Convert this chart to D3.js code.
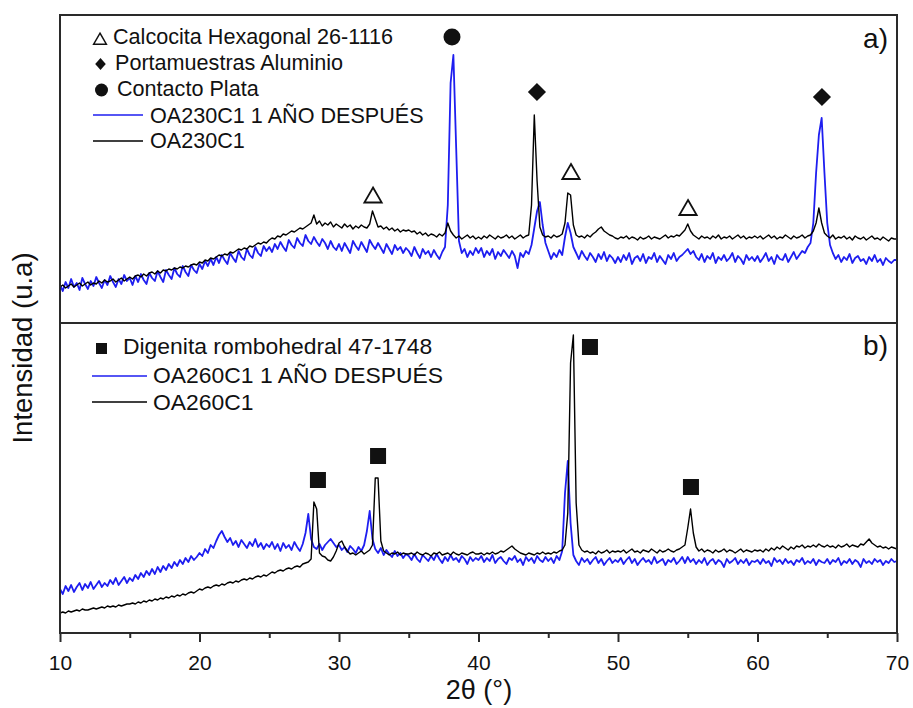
<!DOCTYPE html>
<html>
<head>
<meta charset="utf-8">
<script src="https://cdn.jsdelivr.net/npm/d3@7"></script>
<style>
  html, body { margin: 0; padding: 0; background: #fff; }
  svg { display: block; font-family: "Liberation Sans", Arial, sans-serif; }
</style>
</head>
<body>
<svg id="chart" width="913" height="708"></svg>
<script>
// ---------------- DATA ----------------
// 2θ sampling grid (10° .. 70°, step 0.2°)
const twoTheta = d3.range(301).map(i => +(10 + i * 0.2).toFixed(1));
const xTicks = [10, 20, 30, 40, 50, 60, 70];
const xMinorTicks = [15, 25, 35, 45, 55, 65];

// Panel a) OA230C1 (black), intensity in arbitrary units
const a_OA230C1 = [
  36,38,35,37,39,36,38,40,37,39,41,38,40,39,42,40,43,41,42,44,41,43,45,42,44,
  46,44,47,48,46,49,47,50,51,49,52,50,53,52,54,53,55,54,56,55,57,56,58,59,58,
  61,60,63,62,65,64,66,68,67,69,68,71,70,72,74,73,75,74,77,76,78,80,79,81,80,
  83,85,84,87,86,89,88,90,92,91,93,95,94,96,98,100,108,99,102,97,100,98,101,96,99,
  97,95,99,96,98,94,97,95,98,96,95,99,112,104,96,97,94,96,93,95,92,94,91,93,92,
  93,91,92,89,91,88,90,87,89,88,86,89,87,90,100,92,88,85,87,84,86,88,85,87,84,
  86,84,87,85,88,86,84,87,85,86,88,85,87,84,86,88,85,87,88,118,208,142,96,88,86,
  87,85,88,86,87,89,100,130,128,98,88,86,87,85,88,86,89,91,94,96,92,90,88,87,85,
  84,86,85,87,84,86,85,83,86,84,85,87,84,86,85,84,86,88,85,87,86,88,87,90,93,
  99,92,88,86,84,87,85,86,84,87,85,88,84,86,85,87,84,86,88,85,87,84,86,85,87,
  85,87,84,86,88,85,87,84,86,85,88,86,84,87,85,86,88,85,87,88,92,100,115,100,90,
  87,85,88,84,86,85,87,84,86,83,87,85,84,86,83,85,87,84,85,83,86,84,82,85,84,
  84
];
// Panel a) OA230C1 1 AÑO DESPUÉS (blue)
const a_OA230C1_1ano = [
  38,32,41,35,44,36,40,33,45,39,34,42,37,46,40,35,43,38,47,41,36,44,39,48,42,
  45,38,47,41,49,43,39,50,45,42,52,46,41,53,48,44,55,49,46,57,51,47,58,53,50,
  59,54,62,57,64,58,66,60,68,63,59,70,65,61,72,66,63,74,68,65,76,70,67,77,72,
  76,71,79,74,81,76,72,83,78,75,85,80,77,88,82,79,86,81,77,84,80,74,82,76,73,
  79,72,80,75,70,82,77,73,81,76,71,83,78,74,80,75,70,79,74,69,78,73,76,70,75,
  72,67,76,70,65,74,69,72,66,73,68,64,71,76,118,240,268,175,82,70,74,66,72,68,75,
  70,75,66,72,68,74,64,71,67,73,69,65,72,67,55,70,66,72,69,78,95,112,121,98,80,
  72,64,70,66,73,68,86,100,90,76,70,64,72,67,63,70,66,61,69,64,71,62,68,65,60,
  66,61,68,63,70,59,65,67,62,69,60,66,64,70,61,67,63,59,68,64,70,62,66,68,71,
  74,69,72,66,63,69,61,67,64,70,60,66,63,68,62,65,70,61,67,64,59,68,63,66,62,
  67,61,65,70,62,66,59,68,64,63,69,61,66,71,64,68,72,70,76,80,100,150,188,205,150,
  100,78,70,64,68,61,66,63,69,60,65,67,62,64,59,66,62,68,61,64,58,65,62,60,63,
  63
];
// Panel b) OA260C1 (black)
const b_OA260C1 = [
  20,21,20,22,21,22,23,22,24,23,23,24,25,24,25,26,25,27,26,27,26,28,27,28,29,
  29,30,29,31,30,32,31,33,32,34,33,35,34,36,35,37,36,38,37,39,38,40,41,40,42,
  44,43,45,46,45,47,48,47,49,48,50,51,50,52,51,53,54,53,55,54,56,57,56,58,57,
  59,61,60,62,63,62,64,65,64,66,67,66,69,70,71,74,131,124,80,77,76,73,72,76,82,
  90,92,86,82,79,80,78,80,82,79,81,83,88,155,155,92,82,80,78,80,79,81,78,80,79,
  79,80,78,81,79,78,80,79,77,80,79,81,78,79,80,78,81,79,78,80,79,78,80,81,79,
  79,80,78,80,79,81,79,80,82,81,83,85,87,84,82,80,79,78,80,79,78,80,79,81,79,
  80,79,81,80,82,83,88,120,270,298,130,88,83,81,82,80,81,79,82,80,81,83,80,82,81,
  82,81,83,80,82,84,81,82,80,83,82,81,84,82,80,83,81,82,84,82,81,83,84,86,88,
  105,124,100,86,82,84,81,83,82,80,83,81,82,84,81,83,82,80,82,84,81,83,82,81,83,
  82,83,81,84,82,85,83,86,84,87,85,83,86,84,87,86,88,85,87,86,88,86,89,87,86,
  88,86,87,85,88,86,87,89,86,88,87,86,89,88,91,94,90,88,86,87,85,86,84,86,85,
  84
];
// Panel b) OA260C1 1 AÑO DESPUÉS (blue)
const b_OA260C1_1ano = [
  44,39,47,42,48,41,46,50,43,49,45,51,44,48,52,46,50,47,53,49,55,48,52,56,50,
  55,52,58,54,60,56,62,58,64,59,66,61,67,63,69,65,71,67,73,69,75,71,77,73,76,
  80,77,84,80,88,85,92,98,102,96,91,95,88,92,86,93,89,85,91,87,94,86,90,84,89,
  86,91,84,89,82,90,85,88,83,91,86,82,89,100,119,94,86,84,89,83,88,91,94,90,86,
  88,83,86,81,87,84,80,86,82,88,102,122,94,84,80,85,78,83,79,76,82,77,80,75,79,
  77,73,79,74,71,78,75,72,77,73,79,74,70,76,72,78,73,75,71,77,74,69,76,72,75,
  73,77,71,75,72,78,70,74,76,72,69,75,73,77,71,74,68,76,72,75,70,77,73,71,76,
  72,75,70,77,73,82,140,172,110,78,72,68,75,71,74,69,73,76,70,74,68,72,75,70,73,
  71,75,69,73,76,70,74,68,72,75,71,73,69,76,70,72,74,68,73,71,75,69,72,76,70,
  76,71,74,69,73,70,75,68,72,74,69,73,71,66,74,70,72,75,69,73,70,74,68,72,71,
  73,69,74,70,72,67,75,71,73,69,74,70,72,68,73,71,75,69,72,70,74,68,73,71,70,
  74,69,73,71,75,68,72,70,74,69,73,71,66,74,70,72,69,74,71,73,68,72,70,74,71,
  72
];

// Phase markers [2θ, intensity]
const a_calcocita = [[32.44, 125.5], [46.63, 149], [55.02, 113]];
const a_aluminio  = [[44.19, 231], [64.62, 226]];
const a_plata     = [[38.1, 286]];
const b_digenita  = [[28.49, 153], [32.8, 177], [47.99, 286], [55.23, 146]];

const legendA = ["Calcocita Hexagonal 26-1116", "Portamuestras Aluminio", "Contacto Plata",
                 "OA230C1 1 AÑO DESPUÉS", "OA230C1"];
const legendB = ["Digenita rombohedral 47-1748", "OA260C1 1 AÑO DESPUÉS", "OA260C1"];
const panelLabels = ["a)", "b)"];
const xTitle = "2θ (°)";
const yTitle = "Intensidad (u.a)";

// ---------------- CHART ----------------
const BLUE = "#1e1ef0";
const INK = "#111";
const L = 60, R = 897, TOP = 15, MID = 323, BOT = 633;
const svg = d3.select("#chart");

const x = d3.scaleLinear().domain([10, 70]).range([L, R]);
const yA = d3.scaleLinear().domain([0, 308]).range([MID, TOP]);
const yB = d3.scaleLinear().domain([0, 310]).range([BOT, MID]);

const defs = svg.append("defs");
defs.append("clipPath").attr("id", "clipA").append("rect")
  .attr("x", L).attr("y", TOP).attr("width", R - L).attr("height", MID - TOP);
defs.append("clipPath").attr("id", "clipB").append("rect")
  .attr("x", L).attr("y", MID).attr("width", R - L).attr("height", BOT - MID);

function drawSeries(g, ys, vals, color, w) {
  const line = d3.line().x((d, i) => x(twoTheta[i])).y(d => ys(d));
  g.append("path").datum(vals)
    .attr("fill", "none").attr("stroke", color).attr("stroke-width", w)
    .attr("stroke-linejoin", "round").attr("d", line);
}

const gA = svg.append("g").attr("clip-path", "url(#clipA)");
drawSeries(gA, yA, a_OA230C1_1ano, BLUE, 1.8);
drawSeries(gA, yA, a_OA230C1, "#000", 1.4);

const gB = svg.append("g").attr("clip-path", "url(#clipB)");
drawSeries(gB, yB, b_OA260C1_1ano, BLUE, 1.8);
drawSeries(gB, yB, b_OA260C1, "#000", 1.4);

// frames
svg.append("rect").attr("x", L).attr("y", TOP).attr("width", R - L).attr("height", MID - TOP)
  .attr("fill", "none").attr("stroke", "#2a2a2a").attr("stroke-width", 2);
svg.append("rect").attr("x", L).attr("y", MID).attr("width", R - L).attr("height", BOT - MID)
  .attr("fill", "none").attr("stroke", "#2a2a2a").attr("stroke-width", 2);

// x axis
const ax = svg.append("g").attr("transform", `translate(0,${BOT})`)
  .call(d3.axisBottom(x).tickValues(xTicks).tickSize(9).tickPadding(13).tickFormat(d3.format("d")));
ax.select(".domain").remove();
ax.selectAll("line").attr("stroke", "#2a2a2a").attr("stroke-width", 2);
ax.selectAll("text").attr("font-size", 21).attr("fill", INK)
  .attr("font-family", "Liberation Sans, Arial, sans-serif");
const axm = svg.append("g").attr("transform", `translate(0,${BOT})`)
  .call(d3.axisBottom(x).tickValues(xMinorTicks).tickSize(5).tickFormat(""));
axm.select(".domain").remove();
axm.selectAll("line").attr("stroke", "#2a2a2a").attr("stroke-width", 2);

// axis titles
svg.append("text").attr("x", 479).attr("y", 699).attr("text-anchor", "middle")
  .attr("font-size", 27).attr("fill", INK).text(xTitle);
svg.append("text").attr("transform", "translate(32,348) rotate(-90)")
  .attr("text-anchor", "middle").attr("font-size", 27.5).attr("fill", INK).text(yTitle);

// panel labels
svg.append("text").attr("x", 888).attr("y", 48).attr("text-anchor", "end")
  .attr("font-size", 28).attr("fill", INK).text(panelLabels[0]);
svg.append("text").attr("x", 888).attr("y", 355).attr("text-anchor", "end")
  .attr("font-size", 28).attr("fill", INK).text(panelLabels[1]);

// markers
const triLarge = d3.symbol().type(d3.symbolTriangle).size(130)();
const triSmall = d3.symbol().type(d3.symbolTriangle).size(70)();
const sqDiamond = d3.symbol().type(d3.symbolSquare).size(165)();
const sqDiamondSmall = d3.symbol().type(d3.symbolSquare).size(62)();

svg.selectAll(".tri").data(a_calcocita).join("path")
  .attr("d", triLarge)
  .attr("transform", d => `translate(${x(d[0])},${yA(d[1])})`)
  .attr("fill", "#fff").attr("stroke", INK).attr("stroke-width", 1.8);
svg.selectAll(".dia").data(a_aluminio).join("path")
  .attr("d", sqDiamond)
  .attr("transform", d => `translate(${x(d[0])},${yA(d[1])}) rotate(45)`)
  .attr("fill", INK);
svg.selectAll(".cir").data(a_plata).join("circle")
  .attr("cx", d => x(d[0])).attr("cy", d => yA(d[1])).attr("r", 8.5).attr("fill", INK);
svg.selectAll(".sq").data(b_digenita).join("rect")
  .attr("x", d => x(d[0]) - 8).attr("y", d => yB(d[1]) - 8)
  .attr("width", 16).attr("height", 16).attr("fill", INK);

// legend a)
const lgA = svg.append("g").attr("font-size", 21.6).attr("fill", INK);
lgA.append("path").attr("d", triSmall).attr("transform", "translate(100,40.5)")
  .attr("fill", "#fff").attr("stroke", INK).attr("stroke-width", 1.5);
lgA.append("text").attr("x", 113).attr("y", 44).text(legendA[0]);
lgA.append("path").attr("d", sqDiamondSmall).attr("transform", "translate(100.5,64) scale(0.95,1.08) rotate(45)")
  .attr("fill", INK);
lgA.append("text").attr("x", 115).attr("y", 70).text(legendA[1]);
lgA.append("circle").attr("cx", 101.5).attr("cy", 90).attr("r", 6.5).attr("fill", INK);
lgA.append("text").attr("x", 117).attr("y", 96).text(legendA[2]);
lgA.append("line").attr("x1", 93).attr("x2", 143).attr("y1", 115).attr("y2", 115)
  .attr("stroke", BLUE).attr("stroke-width", 1.5);
lgA.append("text").attr("x", 150).attr("y", 123).text(legendA[3]);
lgA.append("line").attr("x1", 93).attr("x2", 143).attr("y1", 141).attr("y2", 141)
  .attr("stroke", "#000").attr("stroke-width", 1.5);
lgA.append("text").attr("x", 150).attr("y", 148).text(legendA[4]);

// legend b)
const lgB = svg.append("g").attr("font-size", 22.9).attr("fill", INK);
lgB.append("rect").attr("x", 96).attr("y", 343).attr("width", 11).attr("height", 11).attr("fill", INK);
lgB.append("text").attr("x", 123).attr("y", 354).text(legendB[0]);
lgB.append("line").attr("x1", 92).attr("x2", 147).attr("y1", 376).attr("y2", 376)
  .attr("stroke", BLUE).attr("stroke-width", 1.5);
lgB.append("text").attr("x", 153).attr("y", 383).text(legendB[1]);
lgB.append("line").attr("x1", 92).attr("x2", 147).attr("y1", 402).attr("y2", 402)
  .attr("stroke", "#000").attr("stroke-width", 1.5);
lgB.append("text").attr("x", 153).attr("y", 410).text(legendB[2]);
</script>
</body>
</html>
